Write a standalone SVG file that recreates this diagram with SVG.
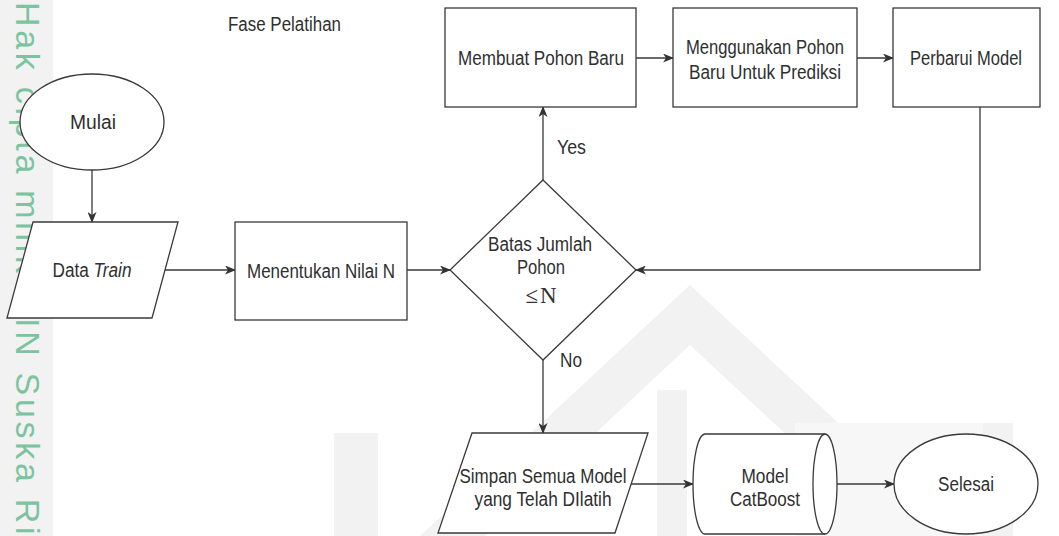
<svg xmlns="http://www.w3.org/2000/svg" width="1059" height="536" viewBox="0 0 1059 536">
<defs>
<style>
.s{fill:#fff;stroke:#3a3a3a;stroke-width:1.3}
.t{font-family:"Liberation Sans",Arial,sans-serif;font-size:19.5px;fill:#2f2f2f;text-anchor:middle}
.l{font-family:"Liberation Sans",Arial,sans-serif;font-size:19.5px;fill:#2f2f2f}
.c{fill:none;stroke:#3a3a3a;stroke-width:1.3}
.wm{fill:#f2f2f2}
.wm2{fill:#f7f7f7}
</style>
<marker id="a" markerWidth="11" markerHeight="9" refX="10" refY="4.5" orient="auto" markerUnits="userSpaceOnUse"><path d="M0,0 L11,4.5 L0,9 L3,4.5 Z" fill="#333"/></marker>
</defs>
<rect width="1059" height="536" fill="#fff"/>
<g id="watermark">
<rect x="0" y="0" width="53" height="536" fill="#f2f2f2"/>
<text transform="translate(16,2) rotate(90)" font-family="Liberation Sans, Arial, sans-serif" font-size="34" fill="#7cc3a0" letter-spacing="3.7">Hak cipta milik UIN Suska Riau</text>
<path class="wm" fill-rule="evenodd" d="M420,536 L690,285 L960,536 Z M485,536 L690,345 L895,536 Z"/>
<rect class="wm" x="334" y="433" width="44" height="103"/>
<rect class="wm2" x="795" y="423" width="218" height="113"/>
<rect class="wm" x="983" y="423" width="30" height="113"/>
<rect class="wm" x="657" y="390" width="30" height="146"/>
</g>
<g id="connectors">
<path class="c" d="M92,170 L92,222" marker-end="url(#a)"/>
<path class="c" d="M165,270 L235,270" marker-end="url(#a)"/>
<path class="c" d="M407,270 L450,270" marker-end="url(#a)"/>
<path class="c" d="M543,180 L543,107" marker-end="url(#a)"/>
<path class="c" d="M636,58 L673,58" marker-end="url(#a)"/>
<path class="c" d="M857,58 L893,58" marker-end="url(#a)"/>
<path class="c" d="M980,107 L980,270 L636,270" marker-end="url(#a)"/>
<path class="c" d="M543,360 L543,433" marker-end="url(#a)"/>
<path class="c" d="M631,484 L693,484" marker-end="url(#a)"/>
<path class="c" d="M837,484 L894,484" marker-end="url(#a)"/>
<text class="l" x="557" y="154" textLength="29" lengthAdjust="spacingAndGlyphs">Yes</text>
<text class="l" x="560" y="367" textLength="22" lengthAdjust="spacingAndGlyphs">No</text>
</g>
<g id="title"><text class="l" x="228" y="31" textLength="113" lengthAdjust="spacingAndGlyphs">Fase Pelatihan</text></g>
<g id="mulai"><ellipse class="s" cx="92" cy="122" rx="72" ry="48"/><text class="t" x="93" y="129" textLength="46" lengthAdjust="spacingAndGlyphs">Mulai</text></g>
<g id="data-train"><polygon class="s" points="33,222 178,222 152,318 7,318"/><text class="t" x="92" y="277" textLength="79" lengthAdjust="spacingAndGlyphs">Data <tspan font-style="italic">Train</tspan></text></g>
<g id="menentukan"><rect class="s" x="235" y="222" width="172" height="98"/><text class="t" x="321" y="278" textLength="148" lengthAdjust="spacingAndGlyphs">Menentukan Nilai N</text></g>
<g id="decision"><polygon class="s" points="543,180 636,270 543,360 450,270"/>
<text class="t" x="540" y="251" textLength="104" lengthAdjust="spacingAndGlyphs">Batas Jumlah</text>
<text class="t" x="541" y="274" textLength="48" lengthAdjust="spacingAndGlyphs">Pohon</text>
<text x="542" y="303" text-anchor="middle" font-family="Liberation Serif, Times New Roman, serif" font-size="23" fill="#333" letter-spacing="2">≤N</text></g>
<g id="membuat"><rect class="s" x="445" y="8" width="191" height="99"/><text class="t" x="541" y="65" textLength="166" lengthAdjust="spacingAndGlyphs">Membuat Pohon Baru</text></g>
<g id="menggunakan"><rect class="s" x="673" y="8" width="184" height="99"/><text class="t" x="765" y="54" textLength="158" lengthAdjust="spacingAndGlyphs">Menggunakan Pohon</text><text class="t" x="765" y="79" textLength="152" lengthAdjust="spacingAndGlyphs">Baru Untuk Prediksi</text></g>
<g id="perbarui"><rect class="s" x="893" y="8" width="147" height="99"/><text class="t" x="966" y="65" textLength="112" lengthAdjust="spacingAndGlyphs">Perbarui Model</text></g>
<g id="simpan"><polygon class="s" points="472,433 648,433 615,533 438,533"/><text class="t" x="543" y="483" textLength="167" lengthAdjust="spacingAndGlyphs">Simpan Semua Model</text><text class="t" x="543" y="506" textLength="137" lengthAdjust="spacingAndGlyphs">yang Telah DIlatih</text></g>
<g id="catboost"><path class="s" d="M705,434 L825,434 A12,50 0 0 1 825,534 L705,534 A12,50 0 0 1 705,434 Z"/><path class="c" d="M825,434 A12,50 0 0 0 825,534"/><text class="t" x="765" y="483" textLength="47" lengthAdjust="spacingAndGlyphs">Model</text><text class="t" x="765" y="506" textLength="70" lengthAdjust="spacingAndGlyphs">CatBoost</text></g>
<g id="selesai"><ellipse class="s" cx="966" cy="484" rx="72" ry="50"/><text class="t" x="966" y="491" textLength="56" lengthAdjust="spacingAndGlyphs">Selesai</text></g>
</svg>
